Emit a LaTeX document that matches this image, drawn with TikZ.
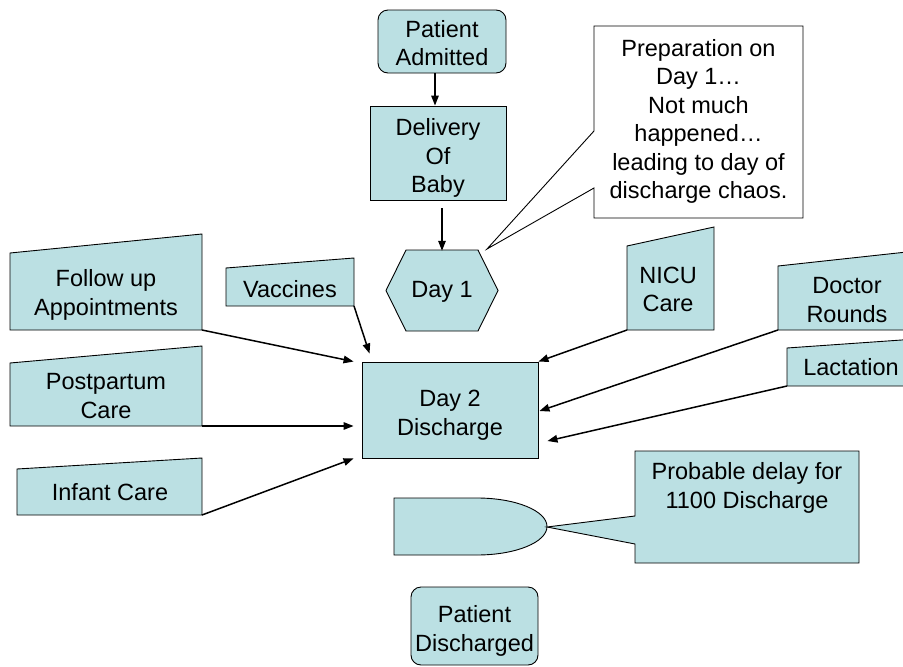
\documentclass[tikz,border=0pt]{standalone}
\usepackage{fontspec}
\setmainfont{Liberation Sans}
\usepackage{tikz}
\usetikzlibrary{calc}
\usetikzlibrary{arrows.meta}

\definecolor{boxblue}{HTML}{BBE0E3}

\tikzset{
  outline/.style={draw=black, line width=0.9pt},
  inbox/.style={outline, fill=boxblue},
  bluebox/.style={inbox, inner sep=0pt},
  txt/.style={align=center, inner sep=0pt},
  flow/.style={line width=1.5pt, -{Triangle[length=10pt,width=7.5pt]}},
}

\begin{document}
\begin{tikzpicture}[x=1pt, y=-1pt, font=\fontsize{23.5}{28.5}\selectfont]
        \clip (0,0) rectangle (903,667);

        % main line
        \node (pa) at (442,41.5) [bluebox, rounded corners=10pt, minimum width=128pt, minimum height=63pt] {};
        \node (paT) at (442,43) [txt] {Patient\\Admitted};
        \node (dob) at (438,153) [bluebox, minimum width=136pt, minimum height=94pt] {};
        \node (dobT) at (438,158) [txt] {Delivery\\Of\\Baby};
        \draw[inbox] (386,290.5) -- (406,250) -- (478,250) -- (498,290.5) -- (478,331) -- (406,331) -- cycle;
        \node (day1) at (442,291.5) [txt, minimum width=112pt, minimum height=81pt] {Day 1};
        \node (d2) at (450,410) [bluebox, minimum width=176pt, minimum height=96pt] {};
        \node (d2T) at (450,415) [txt] {Day 2\\Discharge};
        \node (pd) at (474.5,626) [bluebox, rounded corners=10pt, minimum width=127pt, minimum height=78pt] {};
        \node (pdT) at (474.5,631) [txt] {Patient\\Discharged};

        % note on day 1
        \coordinate (prepTip) at (487,249);
        \draw[outline, fill=white] (594,26) -- (803,26) -- (803,218) -- (594,218) -- (594,188) -- (prepTip) -- (594,131) -- cycle;
        \node (prep) at (698.5,121.5) [txt] {Preparation on\\Day 1…\\Not much\\happened…\\leading to day of\\discharge chaos.};

        % inputs, left side
        \coordinate (fuB) at (202,330);
        \draw[inbox] (10,330) -- (fuB) -- (202,234) -- (10,253) -- cycle;
        \node (fu) at (106,295) [txt] {Follow up\\Appointments};
        \coordinate (vacB) at (354,306);
        \draw[inbox] (226,306) -- (vacB) -- (354,258) -- (226,268) -- cycle;
        \node (vac) at (290,289) [txt] {Vaccines};
        \coordinate (ppB) at (202,426);
        \draw[inbox] (10,426) -- (ppB) -- (202,346) -- (10,363) -- cycle;
        \node (pp) at (106,396) [txt] {Postpartum\\Care};
        \coordinate (infB) at (202,515);
        \draw[inbox] (17,515) -- (infB) -- (202,458) -- (17,469) -- cycle;
        \node (inf) at (110,492) [txt] {Infant Care};

        % inputs, right side
        \coordinate (nicuA) at (627,330);
        \draw[inbox] (nicuA) -- (714,330) -- (714,227) -- (627,246) -- cycle;
        \node (nicu) at (668,289.5) [txt] {NICU\\Care};
        \coordinate (docA) at (778,330);
        \draw[inbox] (docA) -- (916,330) -- (916,251) -- (778,266) -- cycle;
        \node (doc) at (847,300) [txt] {Doctor\\Rounds};
        \coordinate (lacA) at (787,386);
        \draw[inbox] (lacA) -- (916,386) -- (916,339) -- (787,348) -- cycle;
        \node (lac) at (851,367) [txt] {Lactation};

        % delay
        \coordinate (dlyTip) at (547,527);
        \draw[inbox] (394,498) -- (477,498) arc[start angle=-90, end angle=90, x radius=70, y radius=28.5] -- (394,555) -- cycle;
        \draw[inbox] (635,451) -- (859,451) -- (859,563) -- (635,563) -- (635,544) -- (dlyTip) -- (635,516) -- cycle;
        \node (prob) at (747,488) [txt] {Probable delay for\\1100 Discharge};

        % arrows
        \coordinate (A) at ($(pa.south) + (-7,0)$);
        \coordinate (A2) at ($(dob.north) + (-3,0)$);
        \coordinate (B) at ($(dob.south) + (4,8)$);
        \coordinate (C) at ($(d2.north west) + (-8,0)$);
        \coordinate (C2) at ($(d2.north west) + (8,-8)$);
        \coordinate (C3) at ($(d2.west) + (-8,16)$);
        \coordinate (C4) at ($(d2.south west) + (-8,0)$);
        \coordinate (D) at (d2.north east);
        \coordinate (D2) at ($(d2.east) + (1,1)$);
        \coordinate (D3) at ($(d2.east) + (9,31)$);

        \draw[flow] (A) -- (A2);
        \draw[flow] (B) -- (B |- day1.north);
        \draw[flow] (fuB) -- (C);
        \draw[flow] (vacB) -- (C2);
        \draw[flow] (ppB) -- (C3);
        \draw[flow] (infB) -- (C4);
        \draw[flow] (nicuA) -- (D);
        \draw[flow] (docA) -- (D2);
        \draw[flow] (lacA) -- (D3);
    \end{tikzpicture}
\end{document}
